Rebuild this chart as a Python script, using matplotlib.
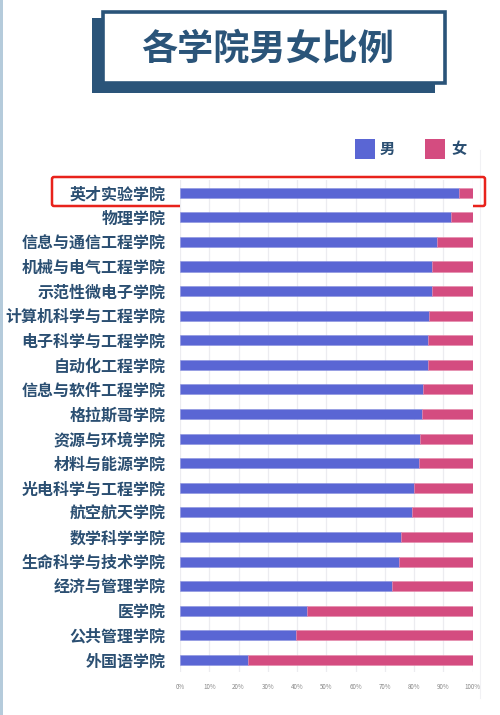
import matplotlib
matplotlib.use('Agg')
import matplotlib.pyplot as plt
from matplotlib.patches import Rectangle, FancyBboxPatch
import numpy as np

plt.rcParams['font.family'] = ['Noto Sans CJK SC', 'DejaVu Sans']

# 各学院男生比例 (%)
colleges = ['英才实验学院', '物理学院', '信息与通信工程学院', '机械与电气工程学院',
            '示范性微电子学院', '计算机科学与工程学院', '电子科学与工程学院',
            '自动化工程学院', '信息与软件工程学院', '格拉斯哥学院', '资源与环境学院',
            '材料与能源学院', '光电科学与工程学院', '航空航天学院', '数学科学学院',
            '生命科学与技术学院', '经济与管理学院', '医学院', '公共管理学院', '外国语学院']
male = [95.5, 92.6, 88.0, 86.3, 86.0, 85.2, 84.9, 84.7, 83.2, 82.7,
        82.2, 81.8, 80.1, 79.2, 75.7, 75.0, 72.4, 43.3, 39.7, 23.4]
female = [100 - m for m in male]
tick_vals = list(range(0, 101, 10))
tick_labels = ['%d%%' % t for t in tick_vals]

c_male = '#5a66d4'
c_female = '#d44c80'
c_text = '#2b4f72'

W, H = 500, 715
fig = plt.figure(figsize=(W / 100, H / 100), dpi=100)

# 背景装饰层 (像素坐标)
bg = fig.add_axes([0, 0, 1, 1])
bg.set_xlim(0, W)
bg.set_ylim(H, 0)
bg.axis('off')
bg.add_patch(Rectangle((0, 0), 2.5, H, color='#b5cbdb', lw=0))
bg.plot([480, 480], [150, 698], color='#f1f1f4', lw=0.8)
# 标题框
bg.add_patch(Rectangle((92, 18), 343, 75, color='#2a5479', lw=0))
bg.add_patch(Rectangle((103, 12), 342, 71, facecolor='white', edgecolor='#2a5479', lw=2.6))
bg.text(268, 49, '各学院男女比例', ha='center', va='center', fontsize=26,
        fontweight='bold', color='#2a5479')
# 图例
bg.add_patch(Rectangle((355, 139), 20, 20, color=c_male, lw=0))
bg.text(380, 149, '男', va='center', fontsize=11, fontweight='bold', color=c_text)
bg.add_patch(Rectangle((425, 139), 20, 20, color=c_female, lw=0))
bg.text(451, 149, '女', va='center', fontsize=11, fontweight='bold', color=c_text)

# 条形图
x0, x1 = 180, 472.5
y_top, y_bot = 180.4, 672.3
ax = fig.add_axes([x0 / W, 1 - y_bot / H, (x1 - x0) / W, (y_bot - y_top) / H])
y = np.arange(len(colleges))
ax.barh(y, male, height=0.41, color=c_male, edgecolor='#8a92e0', lw=0.4, zorder=3)
ax.barh(y, female, left=male, height=0.41, color=c_female, edgecolor='#e58aab', lw=0.4, zorder=3)
ax.set_xlim(0, 100)
ax.set_ylim(len(colleges) - 0.5, -0.5)
ax.set_xticks(tick_vals)
ax.set_xticklabels(tick_labels, fontsize=4.5, color='#888888')
ax.set_yticks(y)
ax.set_yticklabels(colleges, fontsize=11.5, fontweight='bold', color=c_text)
ax.tick_params(axis='x', length=0, pad=8)
ax.tick_params(axis='y', length=0, pad=10.5)
ax.grid(axis='x', color='#ececf0', lw=0.9, zorder=0)
for s in ax.spines.values():
    s.set_visible(False)

# 红色高亮框
bg.add_patch(FancyBboxPatch((52, 177), 433, 29, boxstyle='round,pad=0,rounding_size=2',
                            facecolor='none', edgecolor='#e8221b', lw=1.8, zorder=10))

fig.savefig('out.png', dpi=100)
